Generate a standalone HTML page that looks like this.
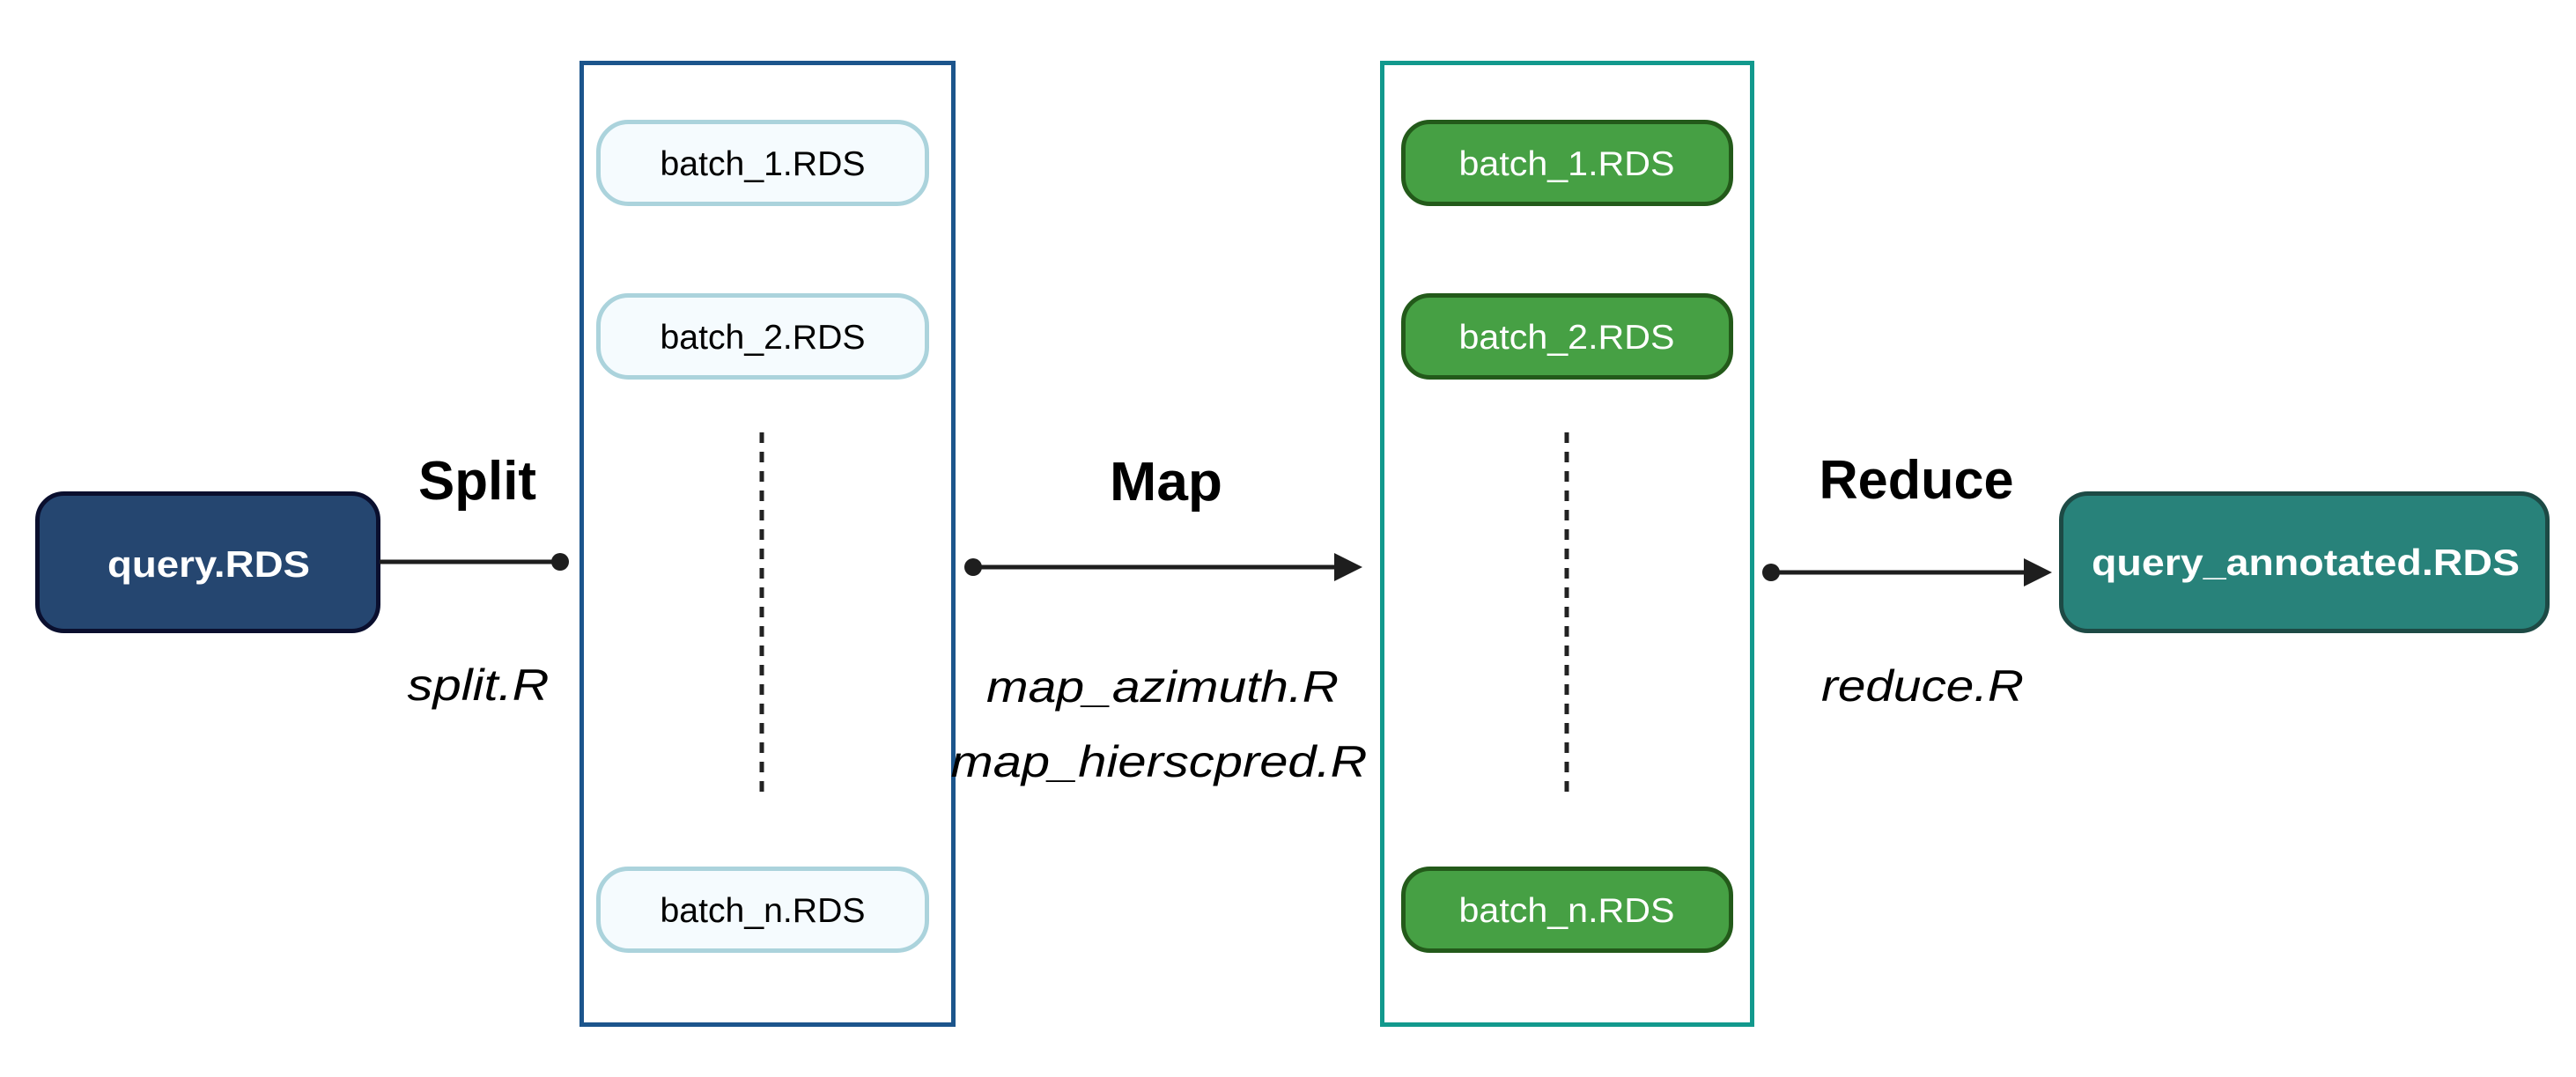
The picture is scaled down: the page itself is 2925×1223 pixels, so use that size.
<!DOCTYPE html>
<html><head><meta charset="utf-8"><style>
html,body{margin:0;padding:0;background:#fff;}
svg{display:block;}
text{font-family:"Liberation Sans",Arial,sans-serif;}
</style></head><body>
<svg width="2925" height="1223" viewBox="0 0 2925 1223" xmlns="http://www.w3.org/2000/svg">
<rect width="2925" height="1223" fill="#fff"/>
<!-- containers -->
<rect x="660.5" y="71.5" width="422" height="1092" fill="none" stroke="#1c558c" stroke-width="5"/>
<rect x="1569.5" y="71.5" width="420" height="1092" fill="none" stroke="#12998d" stroke-width="5"/>
<!-- left batches -->
<g fill="#f5fbfe" stroke="#abd3dc" stroke-width="5">
<rect x="679.5" y="138.5" width="373" height="93" rx="34"/>
<rect x="679.5" y="335.5" width="373" height="93" rx="34"/>
<rect x="679.5" y="986.5" width="373" height="93" rx="34"/>
</g>
<g font-size="39" fill="#000" text-anchor="middle">
<text x="866" y="199" textLength="233" lengthAdjust="spacingAndGlyphs">batch_1.RDS</text>
<text x="866" y="396" textLength="233" lengthAdjust="spacingAndGlyphs">batch_2.RDS</text>
<text x="866" y="1047" textLength="233" lengthAdjust="spacingAndGlyphs">batch_n.RDS</text>
</g>
<!-- right batches -->
<g fill="#46a044" stroke="#235a1a" stroke-width="5">
<rect x="1593.5" y="138.5" width="372" height="93" rx="30"/>
<rect x="1593.5" y="335.5" width="372" height="93" rx="30"/>
<rect x="1593.5" y="986.5" width="372" height="93" rx="30"/>
</g>
<g font-size="39" fill="#fff" text-anchor="middle">
<text x="1779" y="199" textLength="245" lengthAdjust="spacingAndGlyphs">batch_1.RDS</text>
<text x="1779" y="396" textLength="245" lengthAdjust="spacingAndGlyphs">batch_2.RDS</text>
<text x="1779" y="1047" textLength="245" lengthAdjust="spacingAndGlyphs">batch_n.RDS</text>
</g>
<!-- dotted lines -->
<line x1="865" y1="491" x2="865" y2="903" stroke="#222" stroke-width="5" stroke-dasharray="12,10"/>
<line x1="1779" y1="491" x2="1779" y2="903" stroke="#222" stroke-width="5" stroke-dasharray="12,10"/>
<!-- query box -->
<rect x="42.5" y="560.5" width="387" height="156" rx="30" fill="#254670" stroke="#0a0f2e" stroke-width="5"/>
<text x="237" y="655" font-size="42" font-weight="bold" fill="#fff" text-anchor="middle" textLength="230" lengthAdjust="spacingAndGlyphs">query.RDS</text>
<!-- annotated box -->
<rect x="2340.5" y="560.5" width="552" height="156" rx="30" fill="#28827a" stroke="#1d4a45" stroke-width="5"/>
<text x="2618" y="653" font-size="42" font-weight="bold" fill="#fff" text-anchor="middle" textLength="486" lengthAdjust="spacingAndGlyphs">query_annotated.RDS</text>
<!-- connectors -->
<g stroke="#1e1e1e" stroke-width="5" fill="#1e1e1e">
<line x1="431" y1="638" x2="636" y2="638"/>
<circle cx="636" cy="638" r="10" stroke="none"/>
<line x1="1105" y1="644" x2="1520" y2="644"/>
<circle cx="1105" cy="644" r="10" stroke="none"/>
<polygon points="1515,628 1547,644 1515,660" stroke="none"/>
<line x1="2011" y1="650" x2="2302" y2="650"/>
<circle cx="2011" cy="650" r="10" stroke="none"/>
<polygon points="2298,634 2330,650 2298,666" stroke="none"/>
</g>
<!-- labels -->
<g font-weight="bold" font-size="62" fill="#000" text-anchor="middle">
<text x="542" y="567" textLength="134" lengthAdjust="spacingAndGlyphs">Split</text>
<text x="1324" y="568" textLength="128" lengthAdjust="spacingAndGlyphs">Map</text>
<text x="2176" y="566" textLength="221" lengthAdjust="spacingAndGlyphs">Reduce</text>
</g>
<g font-style="italic" font-size="50" fill="#000" text-anchor="middle">
<text x="543" y="795" textLength="161" lengthAdjust="spacingAndGlyphs">split.R</text>
<text x="1320" y="797" textLength="400" lengthAdjust="spacingAndGlyphs">map_azimuth.R</text>
<text x="1316" y="882" textLength="473" lengthAdjust="spacingAndGlyphs">map_hierscpred.R</text>
<text x="2183" y="796" textLength="230" lengthAdjust="spacingAndGlyphs">reduce.R</text>
</g>
</svg>
</body></html>
